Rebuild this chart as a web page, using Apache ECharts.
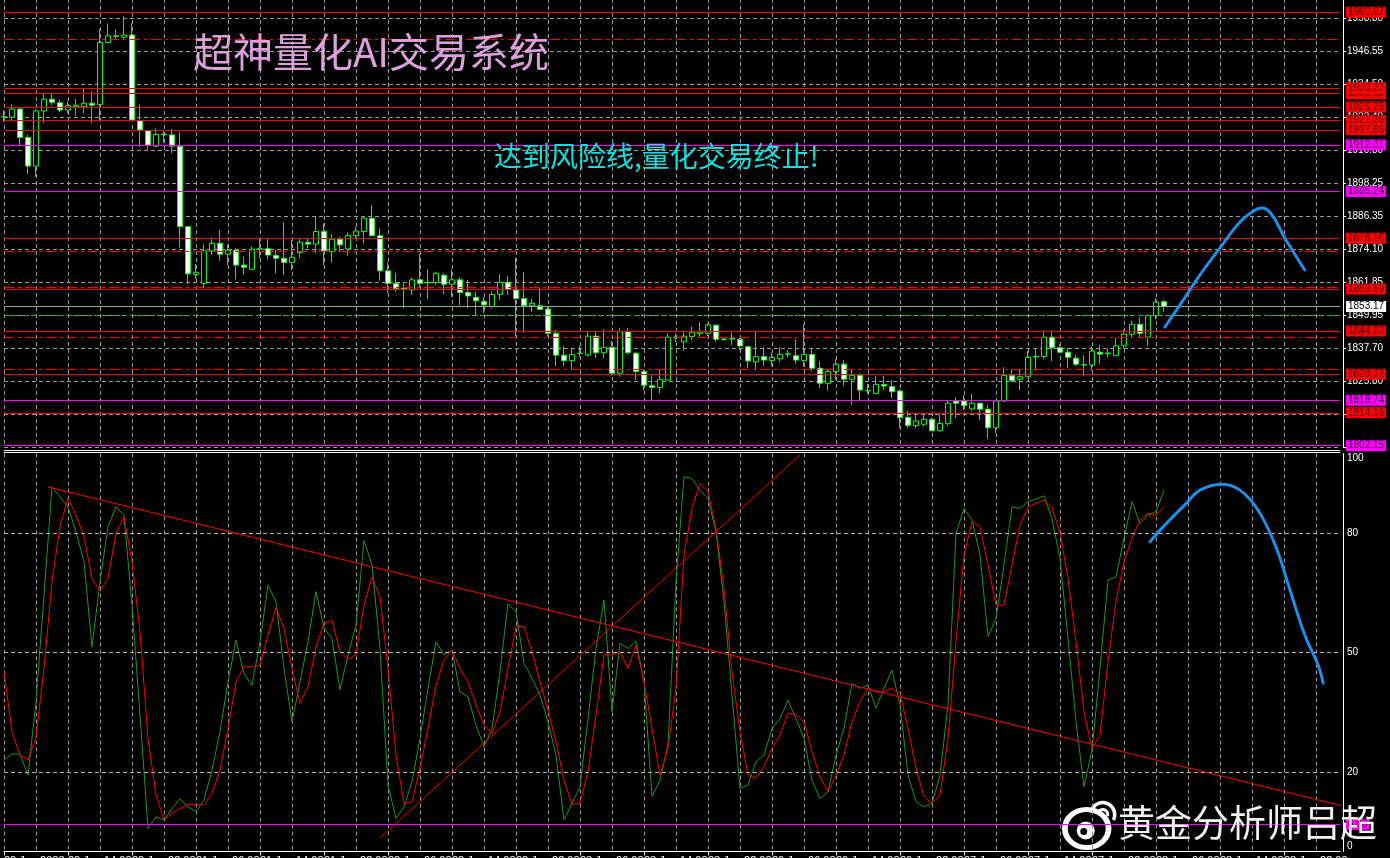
<!DOCTYPE html>
<html><head><meta charset="utf-8">
<script src="https://cdn.jsdelivr.net/npm/echarts@6/dist/echarts.min.js"></script>
<style>html,body{margin:0;padding:0;background:#000;overflow:hidden}#c{width:1390px;height:858px}</style>
</head><body><div id="c"></div>
<script>
// ---- price candles (open / close / low / high) ----
const opens = [1922.7,1922.5,1925.5,1915.1,1904.6,1924.8,1929.1,1927.8,1925.1,1926.3,
1926.3,1927.6,1927.2,1949.9,1952.1,1951.8,1952.6,1921.2,1917.6,1911.9,
1916.1,1916.0,1911.9,1882.4,1864.9,1861.6,1873.5,1876.3,1872.3,1873.8,
1868.3,1866.8,1874.2,1874.3,1871.8,1870.8,1869.3,1872.9,1876.7,1876.0,
1880.6,1873.2,1877.8,1874.2,1879.1,1880.6,1885.5,1879.1,1866.2,1861.6,
1859.9,1859.2,1862.9,1862.0,1861.9,1864.6,1861.3,1862.9,1858.3,1856.5,
1854.9,1853.1,1857.6,1862.0,1859.2,1856.1,1853.4,1853.4,1852.2,1843.3,
1835.3,1833.3,1835.9,1835.4,1842.3,1836.2,1838.2,1828.7,1843.9,1836.0,
1829.3,1824.1,1823.5,1826.2,1841.7,1840.2,1842.1,1843.2,1843.3,1846.3,
1841.2,1841.2,1841.1,1838.4,1832.9,1834.8,1833.3,1834.0,1835.6,1835.1,
1833.3,1835.6,1830.5,1825.0,1829.3,1832.0,1826.5,1827.9,1822.2,1821.3,
1824.6,1823.8,1822.2,1812.5,1809.5,1810.0,1811.8,1807.6,1810.3,1818.5,
1818.5,1815.6,1817.7,1815.5,1808.7,1818.5,1827.8,1826.5,1827.4,1834.6,
1834.8,1841.9,1838.0,1836.4,1834.2,1831.8,1831.7,1836.4,1835.8,1835.1,
1838.7,1843.0,1846.6,1841.9,1849.8,1854.9];
const closes = [1922.7,1925.5,1915.1,1904.6,1924.8,1929.1,1928.0,1925.1,1926.7,1926.9,
1927.6,1926.9,1949.9,1952.3,1952.3,1952.6,1921.5,1917.8,1912.3,1916.2,
1916.3,1911.9,1882.4,1865.1,1865.7,1873.5,1876.3,1872.3,1873.8,1868.3,
1867.5,1874.1,1874.3,1872.0,1870.8,1869.3,1871.2,1876.7,1876.0,1880.6,
1873.5,1877.8,1875.7,1879.1,1880.8,1885.5,1879.1,1866.2,1861.6,1859.7,
1859.6,1862.9,1861.6,1861.8,1865.3,1861.3,1862.9,1858.3,1857.0,1855.2,
1853.7,1857.6,1862.0,1859.4,1856.1,1853.4,1854.3,1852.1,1843.3,1835.3,
1833.3,1835.6,1836.0,1842.3,1836.2,1838.2,1828.7,1843.9,1836.2,1829.3,
1824.3,1823.5,1826.5,1841.9,1841.9,1842.3,1843.7,1843.8,1846.4,1841.1,
1841.0,1841.4,1838.7,1833.2,1834.8,1833.5,1834.4,1835.6,1835.8,1833.5,
1835.6,1830.5,1825.0,1829.3,1832.0,1826.5,1827.9,1822.5,1822.4,1824.6,
1824.0,1821.9,1812.4,1809.5,1811.2,1811.8,1807.6,1810.3,1817.7,1817.7,
1816.8,1817.7,1815.5,1808.7,1818.5,1827.8,1826.0,1827.4,1834.5,1834.9,
1841.9,1838.0,1836.4,1834.5,1832.0,1831.7,1836.8,1835.7,1836.1,1838.7,
1843.0,1846.6,1843.3,1849.8,1854.7,1853.2];
const lows = [1920.9,1921.5,1911.9,1901.7,1900.7,1920.3,1927.0,1924.3,1923.9,1922.9,
1923.9,1920.3,1921.5,1949.5,1951.0,1951.0,1921.3,1911.7,1910.7,1911.5,
1912.9,1909.3,1874.8,1861.4,1863.1,1859.8,1872.0,1869.9,1868.3,1863.1,
1864.7,1866.5,1870.8,1870.4,1865.3,1864.7,1866.5,1870.8,1874.5,1872.6,
1868.3,1869.2,1873.2,1871.8,1878.1,1876.3,1878.7,1862.6,1858.0,1858.6,
1852.5,1857.4,1860.4,1855.8,1861.0,1857.6,1856.7,1853.7,1852.5,1849.8,
1850.7,1852.5,1855.5,1857.4,1842.1,1843.5,1851.2,1851.9,1842.1,1831.3,
1831.3,1829.9,1834.8,1834.8,1834.2,1834.2,1827.7,1827.4,1835.6,1826.2,
1822.3,1818.9,1821.3,1826.0,1840.2,1836.9,1840.9,1842.1,1842.3,1840.2,
1840.6,1839.0,1837.2,1830.5,1830.1,1831.3,1831.3,1832.8,1834.5,1832.1,
1831.1,1829.3,1823.2,1822.3,1826.2,1824.0,1817.1,1818.9,1821.1,1821.1,
1822.5,1819.5,1808.7,1808.7,1808.5,1809.1,1807.4,1807.3,1809.5,1812.2,
1815.2,1814.9,1811.6,1804.5,1806.7,1818.3,1825.6,1822.5,1827.2,1829.6,
1833.8,1833.2,1836.0,1830.7,1831.3,1827.7,1829.6,1832.1,1834.5,1835.0,
1837.8,1841.7,1841.9,1838.7,1848.5,1851.2];
const highs = [1925.1,1927.2,1926.1,1916.0,1925.5,1931.0,1931.0,1928.8,1928.4,1929.2,
1932.8,1932.1,1954.8,1956.9,1954.7,1959.6,1956.9,1927.2,1917.8,1918.4,
1917.8,1918.2,1917.0,1882.6,1868.7,1875.9,1878.5,1881.2,1875.9,1874.5,
1871.4,1875.1,1877.9,1877.9,1873.8,1884.0,1877.5,1878.1,1878.1,1886.3,
1883.6,1879.7,1878.7,1880.3,1882.4,1886.3,1890.3,1881.8,1869.2,1865.5,
1861.6,1863.8,1872.4,1866.8,1865.9,1865.3,1866.8,1863.8,1862.9,1858.6,
1856.7,1858.6,1864.9,1864.3,1871.0,1865.7,1856.1,1860.0,1853.1,1844.5,
1838.7,1837.8,1838.7,1843.9,1843.9,1844.8,1840.5,1845.2,1845.2,1836.6,
1830.1,1828.0,1830.1,1843.3,1843.3,1843.9,1845.7,1847.6,1847.0,1846.6,
1841.5,1843.7,1841.9,1838.7,1843.9,1838.4,1836.2,1838.2,1837.2,1841.2,
1846.6,1838.0,1833.2,1829.9,1833.8,1833.5,1830.1,1828.7,1824.7,1827.7,
1827.7,1826.2,1822.8,1815.0,1813.4,1813.6,1812.5,1813.6,1818.6,1819.9,
1820.7,1821.1,1817.9,1817.1,1818.6,1830.9,1830.1,1829.9,1836.8,1837.8,
1844.5,1844.5,1839.3,1838.0,1835.4,1835.4,1838.4,1839.0,1837.8,1841.7,
1844.5,1847.9,1849.2,1850.3,1856.1,1855.5];

// ---- stochastic oscillator ----
const stochK = [23.0,24.5,24.5,19.2,37.6,64.4,91.6,89.1,86.6,80.3,
72.8,51.4,67.8,81.6,86.6,84.5,61.9,34.3,5.8,8.7,
7.9,10.8,13.3,11.2,10.0,12.9,20.5,30.1,42.6,53.1,
44.7,41.8,52.7,66.9,62.8,46.0,32.6,42.6,52.7,65.3,
56.1,53.5,40.6,49.4,56.9,78.2,72.0,51.0,16.7,8.3,
11.2,17.5,28.4,41.0,52.7,49.4,50.6,40.1,38.9,31.8,
26.3,30.9,45.2,62.3,60.2,47.3,43.5,39.3,32.6,24.2,
7.9,12.1,16.3,33.4,51.0,63.2,35.1,52.3,51.0,52.9,
42.6,13.8,17.9,26.7,67.8,94.2,93.7,90.8,88.7,80.3,
62.8,39.3,15.9,16.7,22.6,24.2,30.9,33.4,38.0,33.4,
28.4,17.9,13.3,15.0,24.2,30.9,42.2,41.0,41.8,36.0,
41.0,45.6,36.8,19.2,12.5,11.2,12.1,19.2,36.8,79.9,
86.2,83.3,74.5,54.0,58.6,72.0,86.6,86.2,87.9,88.5,
89.4,83.7,73.6,53.5,32.6,16.3,25.5,46.0,68.2,69.0,
78.7,87.9,82.4,84.5,85.4,90.8];
const stochD = [45.2,30.1,24.2,23.0,28.8,46.0,67.8,81.6,88.9,84.5,
79.1,68.6,65.4,68.6,79.9,84.1,72.8,55.2,28.4,14.2,
7.9,9.6,10.8,11.8,11.7,11.7,14.6,20.5,30.9,42.6,
46.4,46.4,46.8,54.4,61.2,56.1,46.0,37.2,41.4,51.4,
57.3,58.1,50.2,48.3,49.4,61.9,69.0,64.0,46.0,24.2,
12.1,12.5,20.9,30.9,41.8,48.1,50.6,46.0,42.6,36.8,
31.8,29.7,35.1,46.0,56.5,56.5,50.2,42.6,35.5,27.6,
17.9,11.8,12.1,20.0,34.3,49.4,49.4,50.2,46.0,51.9,
42.6,30.9,19.2,25.9,41.0,74.5,86.2,92.5,90.4,81.2,
66.1,45.2,30.1,19.2,18.4,21.3,25.9,29.3,34.7,34.3,
32.6,25.1,18.8,15.0,19.2,24.2,32.6,37.6,41.0,40.1,
40.1,41.0,39.7,30.9,20.9,13.8,12.1,14.2,28.4,52.7,
74.5,82.9,81.6,72.0,61.9,61.9,72.0,82.0,86.6,87.5,
88.3,86.2,80.3,68.6,52.7,35.1,25.9,29.3,47.7,62.8,
72.8,78.7,83.3,85.0,84.5,86.6];

// ---- horizontal levels ----
const redLevels = [1960.97,1931.10,1933.27,1926.25,1921.26,1917.86,1878.16,1859.59,1844.20,1828.32,1814.16];
const magentaLevels = [1912.31,1895.24,1818.74,1802.15];
const dashDotLevels = [1951.03,1873.36,1860.17,1841.85,1830.12];
const currentPrice = 1853.17;
const greenDashLevel = 1849.95;
const stochLevels = [20,50,80];
const stochMagentaLevel = 6.8;

// ---- axis tick labels ----
const priceTickLabels = ['1958.80','1946.55','1934.50','1922.40','1910.30','1898.25','1886.35','1874.10','1861.85','1849.95','1837.70','1825.80','1813.65','1801.55'];
const stochTickLabels = [0,20,50,80,100];
const timeLabels = ['20 Jun 2023','20 Jun 14:00','20 Jun 22:00','21 Jun 06:00','21 Jun 14:00','21 Jun 22:00','22 Jun 06:00','22 Jun 14:00','22 Jun 22:00','23 Jun 06:00','23 Jun 14:00','23 Jun 22:00','26 Jun 06:00','26 Jun 14:00','26 Jun 22:00','27 Jun 06:00','27 Jun 14:00','27 Jun 22:00','28 Jun 06:00','28 Jun 14:00','28 Jun 22:00'];
const slotCount = 168;

// ---- hand drawn annotations (bar index, value) ----
const priceSketch = [[145.1,1845.6],[147,1853.7],[149.5,1864.7],[152,1874.6],[154.5,1884.1],[156.4,1888.5],[157.25,1889.2],[158.5,1886.7],[160.1,1878.2],[162.6,1866.5]];
const stochSketch = [[143.25,77.8],[145.1,82.0],[147.6,87.1],[149.5,90.8],[152.25,92.3],[154.5,90.8],[156.75,85.8],[158.9,77.0],[160.75,65.7],[162.6,54.4],[164.25,46.9],[164.9,42.3]];
const trendDown = [[5.5,91.6],[167.4,11.4]];
const trendUp = [[47,3.4],[99.5,99.6]];

const categories = Array.from({length: slotCount}, (_, i) => String(i));
const candleData = opens.map((o, i) => [o, closes[i], lows[i], highs[i]]);
const INT = 133 / 11;
const FONT = 'Liberation Sans';
const GRID = '#9c9c9c';

function lvlLabel(bg, fg) {
  return {show: true, position: 'end', distance: 6, formatter: p => p.value.toFixed(2),
    backgroundColor: bg, color: fg, fontSize: 10, fontFamily: FONT, padding: [1, 2, 0, 2]};
}
const priceLines = [];
dashDotLevels.forEach(v => priceLines.push({yAxis: v, lineStyle: {color: '#ff0000', type: [10, 4, 3, 4], width: 1}, label: {show: false}}));
priceLines.push({yAxis: greenDashLevel, lineStyle: {color: '#35b035', type: [6, 3], width: 1}, label: {show: false}});
magentaLevels.forEach(v => priceLines.push({yAxis: v, lineStyle: {color: '#ff00ff', type: 'solid', width: 1}, label: lvlLabel('#ff00ff', '#3a003a')}));
redLevels.forEach(v => priceLines.push({yAxis: v, lineStyle: {color: '#ff0000', type: 'solid', width: 1}, label: lvlLabel('#ff0000', '#4a0000')}));
priceLines.push({yAxis: currentPrice, lineStyle: {color: '#8fae8f', type: 'solid', width: 1}, label: lvlLabel('#ffffff', '#000000')});

const stochLines = stochLevels.map(v => ({yAxis: v, lineStyle: {color: '#b8b8b8', type: [4, 3], width: 1}, label: {show: false}}));
stochLines.push({yAxis: stochMagentaLevel, lineStyle: {color: '#ff00ff', type: 'solid', width: 1}, label: lvlLabel('#ff00ff', '#3a003a')});

const chart = echarts.init(document.getElementById('c'), null, {renderer: 'canvas'});
chart.setOption({
  animation: false,
  backgroundColor: '#000000',
  grid: [
    {left: 4, right: 50, top: -1, bottom: 410.7, outerBoundsMode: 'none'},
    {left: 4, right: 50, top: 453.5, bottom: 6.5, outerBoundsMode: 'none'}
  ],
  xAxis: [
    {type: 'category', gridIndex: 0, data: categories, boundaryGap: false, offset: 3,
     axisLine: {show: true, onZero: false, lineStyle: {color: '#ffffff', width: 1}}, axisTick: {show: false}, axisLabel: {show: false},
     splitLine: {show: true, interval: 3, lineStyle: {color: GRID, type: [4, 3], width: 1}}},
    {type: 'category', gridIndex: 1, data: categories, boundaryGap: false,
     axisLine: {show: true, onZero: false, lineStyle: {color: '#ffffff', width: 1}},
     axisTick: {show: true, interval: 7, length: 4, lineStyle: {color: '#ffffff'}},
     axisLabel: {show: true, interval: 7, color: '#ffffff', fontSize: 11, fontFamily: FONT, align: 'left', margin: 4,
       formatter: (v, idx) => (idx % 8 === 0 && timeLabels[idx / 8]) ? timeLabels[idx / 8] : ''},
     splitLine: {show: true, interval: 3, lineStyle: {color: GRID, type: [4, 3], width: 1}}},
    {type: 'value', gridIndex: 0, min: 0, max: slotCount - 1, show: false},
    {type: 'value', gridIndex: 1, min: 0, max: slotCount - 1, position: 'top', offset: 1,
     axisLine: {show: true, onZero: false, lineStyle: {color: '#ffffff', width: 1}}, axisTick: {show: false}, axisLabel: {show: false}, splitLine: {show: false}}
  ],
  yAxis: [
    {type: 'value', gridIndex: 0, position: 'right', offset: 3, min: 149 * INT, max: 1965.81, interval: INT, scale: true,
     axisLine: {show: true, onZero: false, lineStyle: {color: '#ffffff', width: 1}},
     axisTick: {show: true, length: 3, lineStyle: {color: '#ffffff'}},
     axisLabel: {color: '#ffffff', fontSize: 10, fontFamily: FONT, margin: 4, showMaxLabel: false,
       formatter: v => { const t = priceTickLabels.find(s => Math.abs(parseFloat(s) - v) < 0.4); return t || ''; }},
     splitLine: {show: true, lineStyle: {color: GRID, type: [4, 3], width: 1}}},
    {type: 'value', gridIndex: 1, position: 'right', offset: 3, min: 0, max: 100, interval: 10,
     axisLine: {show: true, onZero: false, lineStyle: {color: '#ffffff', width: 1}},
     axisTick: {show: false},
     axisLabel: {color: '#ffffff', fontSize: 10, fontFamily: FONT, margin: 4,
       verticalAlignMaxLabel: 'top', verticalAlignMinLabel: 'bottom',
       formatter: v => stochTickLabels.includes(v) ? String(v) : ''},
     splitLine: {show: false}}
  ],
  series: [
    {type: 'candlestick', xAxisIndex: 0, yAxisIndex: 0, data: candleData, barWidth: 5, clip: false, z: 2,
     itemStyle: {color: '#000000', color0: '#ffffff', borderColor: '#00ff00', borderColor0: '#00ff00', borderColorDoji: '#00ff00', borderWidth: 1}},
    {type: 'line', xAxisIndex: 0, yAxisIndex: 0, data: closes, symbol: 'none', silent: true, z: 4,
     lineStyle: {opacity: 0},
     markLine: {silent: true, symbol: ['none', 'none'], data: priceLines, animation: false}},
    {type: 'line', xAxisIndex: 2, yAxisIndex: 0, data: priceSketch, smooth: 0.4, symbol: 'none', z: 6,
     lineStyle: {color: '#1e8fe8', width: 3, cap: 'round'}},
    {type: 'line', xAxisIndex: 1, yAxisIndex: 1, data: stochK, symbol: 'none', z: 3,
     lineStyle: {color: '#1c9a1c', width: 1},
     markLine: {silent: true, symbol: ['none', 'none'], data: stochLines, animation: false}},
    {type: 'line', xAxisIndex: 1, yAxisIndex: 1, data: stochD, symbol: 'none', z: 4,
     lineStyle: {color: '#ff0000', width: 1}},
    {type: 'line', xAxisIndex: 3, yAxisIndex: 1, data: trendDown, symbol: 'none', clip: false, z: 5,
     lineStyle: {color: '#ff0000', width: 1}},
    {type: 'line', xAxisIndex: 3, yAxisIndex: 1, data: trendUp, symbol: 'none', clip: false, z: 5,
     lineStyle: {color: '#ff0000', width: 1}},
    {type: 'line', xAxisIndex: 3, yAxisIndex: 1, data: stochSketch, smooth: 0.4, symbol: 'none', z: 6,
     lineStyle: {color: '#1e8fe8', width: 3, cap: 'round'}}
  ],
  graphic: [
    {type: 'text', left: 193, top: 32, z: 50, style: {text: '超神量化AI交易系统', font: '40px "Noto Sans CJK SC"', fill: '#dda0dd'}},
    {type: 'text', left: 494, top: 142, z: 50, style: {text: '达到风险线,量化交易终止!', font: '28px "Noto Sans CJK SC"', fill: '#10e0e0'}},
    {type: 'group', left: 1062, top: 800, z: 60, children: [
      {type: 'circle', shape: {cx: 22, cy: 28, r: 19}, scaleX: 1.15, originX: 22, originY: 28, style: {fill: 'none', stroke: '#ffffff', lineWidth: 5}},
      {type: 'circle', shape: {cx: 21, cy: 30, r: 9}, style: {fill: '#ffffff'}},
      {type: 'circle', shape: {cx: 19, cy: 31, r: 3.5}, style: {fill: '#000000'}},
      {type: 'arc', shape: {cx: 38, cy: 14, r: 12, startAngle: -Math.PI * 0.95, endAngle: Math.PI * 0.15}, style: {stroke: '#ffffff', lineWidth: 3.5, fill: 'none'}},
      {type: 'arc', shape: {cx: 38, cy: 14, r: 5, startAngle: -Math.PI * 0.9, endAngle: Math.PI * 0.1}, style: {stroke: '#ffffff', lineWidth: 3, fill: 'none'}}
    ]},
    {type: 'text', left: 1118, top: 804, z: 60, style: {text: '黄金分析师吕超', font: '37px "Noto Sans CJK SC"', fill: '#f2f2f2'}}
  ]
});
</script></body></html>
